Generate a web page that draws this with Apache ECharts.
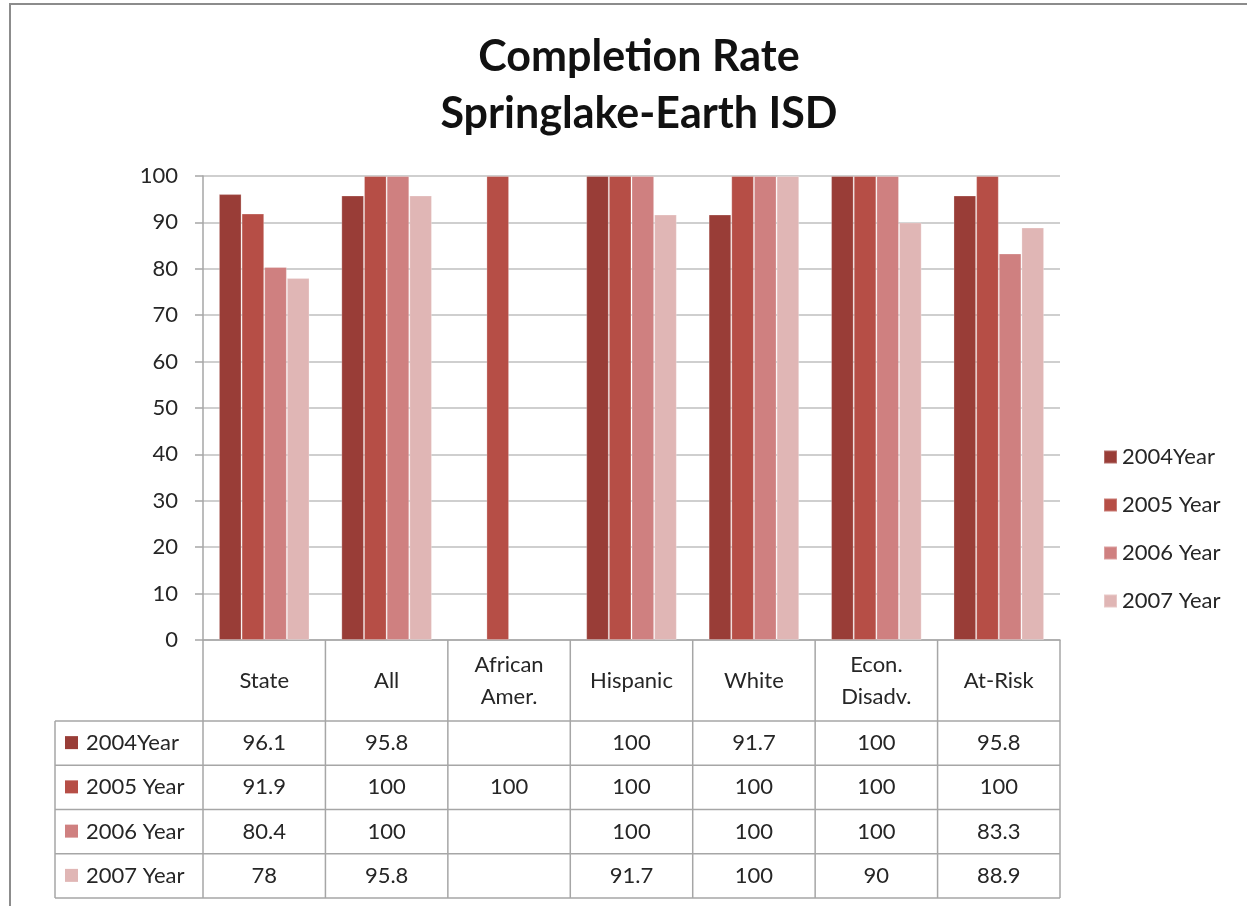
<!DOCTYPE html>
<html>
<head>
<meta charset="utf-8">
<script src="https://cdn.jsdelivr.net/npm/echarts@6/dist/echarts.min.js"></script>
<style>
html,body{margin:0;padding:0;background:#fff;}
#c{width:1247px;height:906px;}
</style>
</head>
<body>
<div id="c"></div>
<script>
const categories = ['State', 'All', 'African\nAmer.', 'Hispanic', 'White', 'Econ.\nDisadv.', 'At-Risk'];
const seriesNames = ['2004Year', '2005 Year', '2006 Year', '2007 Year'];
const y2004 = [96.1, 95.8, null, 100, 91.7, 100, 95.8];
const y2005 = [91.9, 100, 100, 100, 100, 100, 100];
const y2006 = [80.4, 100, null, 100, 100, 100, 83.3];
const y2007 = [78, 95.8, null, 91.7, 100, 90, 88.9];
const yMin = 0, yMax = 100, yStep = 10;
const titleLines = ['Completion Rate', 'Springlake-Earth ISD'];

const allSeries = [y2004, y2005, y2006, y2007];
const colors = ['#993D37', '#B64E46', '#CF8080', '#E0B6B5'];
const FONT = 'Lato, "Open Sans", sans-serif';
const FS = 22;
const TXT = '#262626';
const LINE = '#A6A6A6';

const G = { left: 203, top: 176, width: 857, height: 464 };
const tableRows = { header: 81, row: 44.25 };
const tableLeft = 55;

const chart = echarts.init(document.getElementById('c'));

const option = {
  animation: false,
  backgroundColor: '#fff',
  color: colors,
  title: {
    text: titleLines.join('\n'),
    left: 634, top: 24, textAlign: 'center',
    textStyle: { fontFamily: FONT, fontSize: 43, fontWeight: 'bold', color: '#111', lineHeight: 57 }
  },
  legend: {
    orient: 'vertical', left: 1103, top: 445, padding: 0,
    itemWidth: 13, itemHeight: 13, itemGap: 24,
    icon: 'rect',
    textStyle: { fontFamily: FONT, fontSize: FS, color: TXT, lineHeight: 24 },
    data: seriesNames
  },
  grid: { left: G.left, top: G.top, width: G.width, height: G.height, containLabel: false },
  xAxis: {
    type: 'category', data: categories,
    axisLine: { show: true, lineStyle: { color: LINE, width: 1.5 } },
    axisTick: { show: false },
    axisLabel: { show: false },
    splitLine: { show: false }
  },
  yAxis: {
    type: 'value', min: yMin, max: yMax, interval: yStep,
    axisLine: { show: true, lineStyle: { color: LINE, width: 1.5 } },
    axisTick: { show: true, length: 8, lineStyle: { color: LINE, width: 1.5 } },
    axisLabel: { fontFamily: FONT, fontSize: FS, color: TXT, margin: 25 },
    splitLine: { show: true, lineStyle: { color: '#BFBFBF', width: 1.5 } }
  },
  series: allSeries.map((d, i) => ({
    name: seriesNames[i], type: 'bar', data: d,
    barGap: '0%', barCategoryGap: '26%',
    itemStyle: { color: colors[i], borderColor: 'rgba(255,255,255,0.25)', borderWidth: 1 }
  }))
};
chart.setOption(option);

// Build data table from the arrays, columns located through the category axis
const graphic = [];
const yTop = G.top + G.height;
const yHeaderBottom = yTop + tableRows.header;
const yBottom = yHeaderBottom + tableRows.row * seriesNames.length;
const centers = categories.map((c, i) => chart.convertToPixel({ xAxisIndex: 0 }, i));
const half = (centers[1] - centers[0]) / 2;
const right = centers[centers.length - 1] + half;

// frame
graphic.push({ type: 'rect', shape: { x: 10, y: 4, width: 1300, height: 950 },
  style: { fill: null, stroke: '#8C8C8C', lineWidth: 2 }, silent: true });

// vertical lines
graphic.push({ type: 'line', shape: { x1: G.left, y1: yTop, x2: G.left, y2: yBottom }, style: { stroke: LINE, lineWidth: 1.5 } });
centers.forEach((cx) => {
  graphic.push({ type: 'line', shape: { x1: cx + half, y1: yTop, x2: cx + half, y2: yBottom }, style: { stroke: LINE, lineWidth: 1.5 } });
});
graphic.push({ type: 'line', shape: { x1: tableLeft, y1: yHeaderBottom, x2: tableLeft, y2: yBottom }, style: { stroke: LINE, lineWidth: 1.5 } });
// horizontal lines
for (let r = 0; r <= seriesNames.length; r++) {
  const yy = yHeaderBottom + r * tableRows.row;
  graphic.push({ type: 'line', shape: { x1: tableLeft, y1: yy, x2: right, y2: yy }, style: { stroke: LINE, lineWidth: 1.5 } });
}
// header texts
categories.forEach((c, i) => {
  graphic.push({ type: 'text', x: centers[i], y: yTop + tableRows.header / 2,
    style: { text: c, font: FS + 'px ' + FONT, fill: TXT, align: 'center', verticalAlign: 'middle', lineHeight: 32 } });
});
// rows
seriesNames.forEach((name, r) => {
  const cy = yHeaderBottom + r * tableRows.row + tableRows.row / 2;
  graphic.push({ type: 'rect', shape: { x: 65, y: cy - 7, width: 13, height: 13 }, style: { fill: colors[r] } });
  graphic.push({ type: 'text', x: 86, y: cy,
    style: { text: name, font: FS + 'px ' + FONT, fill: TXT, align: 'left', verticalAlign: 'middle' } });
  allSeries[r].forEach((v, i) => {
    if (v === null || v === undefined) return;
    graphic.push({ type: 'text', x: centers[i], y: cy,
      style: { text: String(v), font: FS + 'px ' + FONT, fill: TXT, align: 'center', verticalAlign: 'middle' } });
  });
});

chart.setOption({ graphic: graphic });
</script>
</body>
</html>
